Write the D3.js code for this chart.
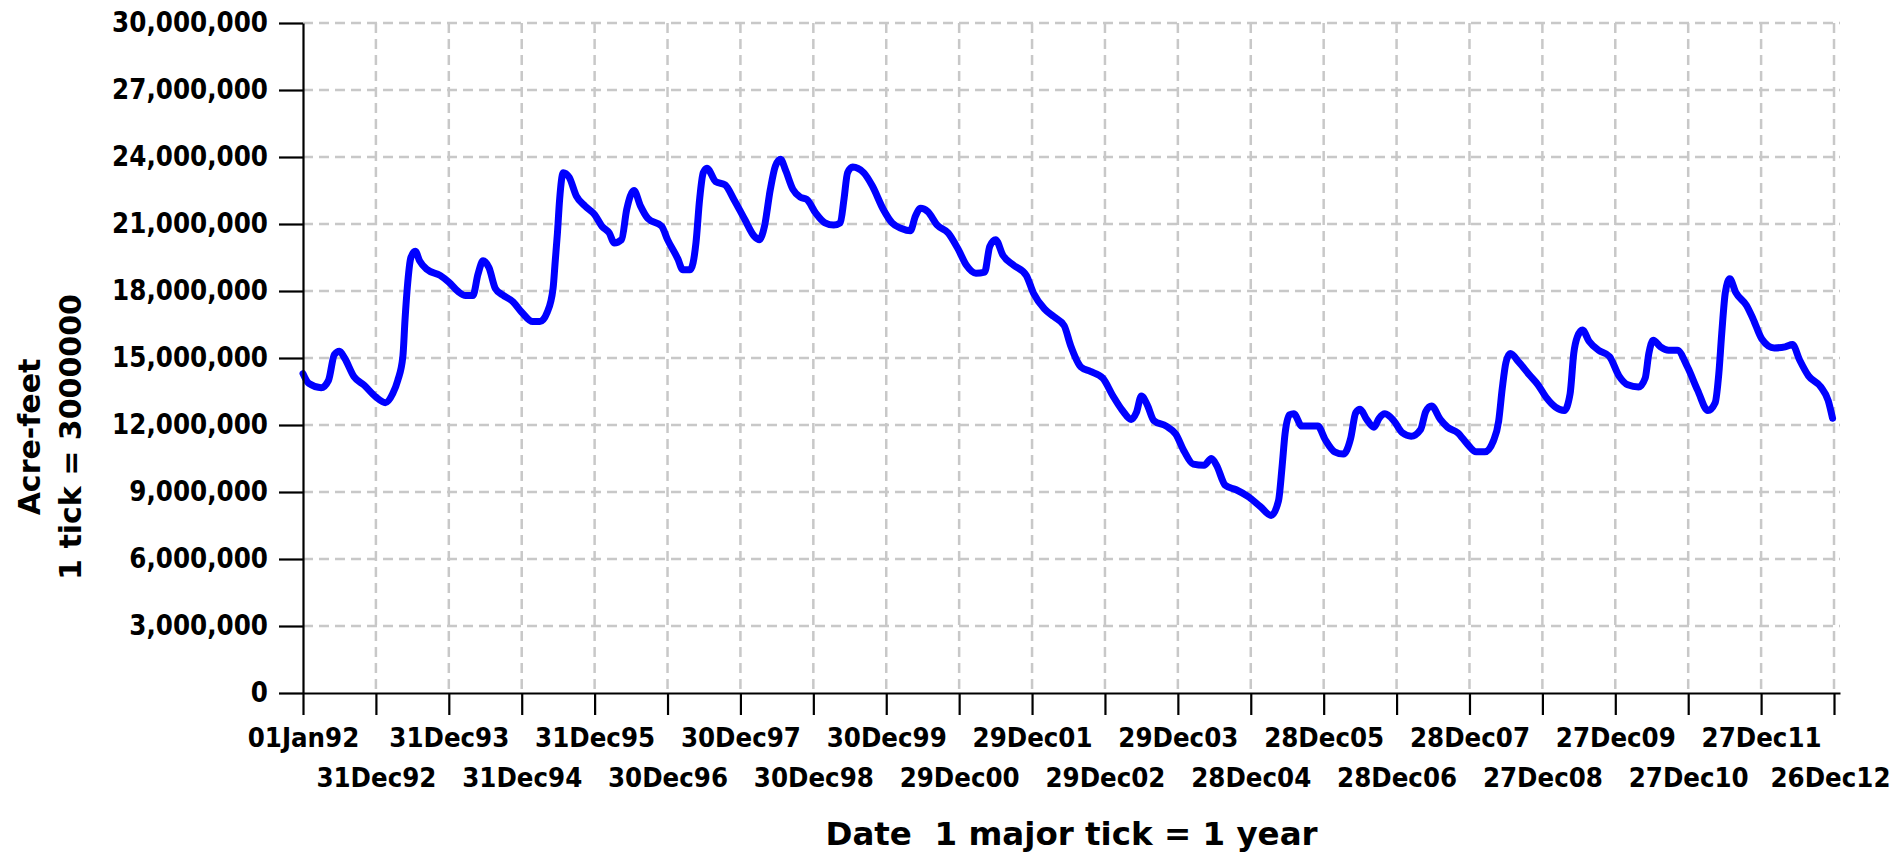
<!DOCTYPE html>
<html>
<head>
<meta charset="utf-8">
<script src="https://cdn.jsdelivr.net/npm/d3@7"></script>
<style>
body { margin: 0; background: #fff; }
text { font-family: "DejaVu Sans", sans-serif; fill: #000; }
</style>
</head>
<body>
<script>
var width = 1901;
var height = 854;
var margin = {top: 23, right: 61, bottom: 161, left: 303};

// position of each reading, in "tick years" (1 tick = 365 days from 01Jan92)
var years = [
  1992.00, 1992.08, 1992.25, 1992.35, 1992.43, 1992.50, 1992.57, 1992.70, 1992.84,
  1993.00, 1993.13, 1993.23, 1993.30, 1993.37, 1993.40, 1993.43, 1993.48, 1993.54, 1993.60, 1993.70, 1993.88,
  1994.00, 1994.13, 1994.23, 1994.33, 1994.40, 1994.47, 1994.55, 1994.64, 1994.74, 1994.88,
  1995.00, 1995.15, 1995.25, 1995.35, 1995.43, 1995.46, 1995.49, 1995.52, 1995.57, 1995.65, 1995.75, 1995.87,
  1996.00, 1996.10, 1996.20, 1996.27, 1996.37, 1996.44, 1996.54, 1996.63, 1996.73, 1996.92,
  1997.00, 1997.14, 1997.21, 1997.31, 1997.39, 1997.44, 1997.49, 1997.54, 1997.66, 1997.79, 1997.91,
  1998.06, 1998.19, 1998.26, 1998.33, 1998.41, 1998.48, 1998.55, 1998.62, 1998.72, 1998.82, 1998.91,
  1999.03, 1999.16, 1999.28, 1999.37, 1999.42, 1999.47, 1999.54, 1999.69, 1999.81, 1999.96,
  2000.08, 2000.21, 2000.33, 2000.40, 2000.47, 2000.57, 2000.70, 2000.85, 2000.99,
  2001.10, 2001.23, 2001.35, 2001.42, 2001.50, 2001.60, 2001.75, 2001.92,
  2002.02, 2002.17, 2002.30, 2002.44, 2002.53, 2002.67, 2002.80, 2002.97,
  2003.11, 2003.24, 2003.36, 2003.43, 2003.50, 2003.58, 2003.67, 2003.84, 2003.97,
  2004.09, 2004.21, 2004.36, 2004.46, 2004.53, 2004.65, 2004.80, 2004.96,
  2005.13, 2005.28, 2005.38, 2005.43, 2005.47, 2005.53, 2005.59, 2005.70, 2005.82, 2005.92,
  2006.02, 2006.15, 2006.27, 2006.37, 2006.44, 2006.50, 2006.59, 2006.69, 2006.76, 2006.84, 2006.96,
  2007.08, 2007.20, 2007.33, 2007.40, 2007.48, 2007.60, 2007.70, 2007.84, 2007.97,
  2008.09, 2008.21, 2008.33, 2008.40, 2008.45, 2008.50, 2008.56, 2008.68, 2008.82, 2008.94,
  2009.06, 2009.18, 2009.30, 2009.38, 2009.43, 2009.48, 2009.55, 2009.64, 2009.77, 2009.92,
  2010.05, 2010.17, 2010.32, 2010.41, 2010.46, 2010.52, 2010.62, 2010.73, 2010.85, 2010.99,
  2011.13, 2011.27, 2011.37, 2011.42, 2011.46, 2011.51, 2011.57, 2011.65, 2011.80, 2011.89,
  2012.01, 2012.18, 2012.33, 2012.43, 2012.53, 2012.65, 2012.82, 2012.92, 2012.98
];

// storage in millions of acre-feet
var storage = [
  14.30, 13.86, 13.67, 14.00, 15.15, 15.30, 15.00, 14.16, 13.78,
  13.25, 13.00, 13.40, 14.00, 15.07, 16.75, 18.12, 19.50, 19.78, 19.35, 18.97, 18.70,
  18.40, 17.97, 17.80, 17.80, 18.75, 19.35, 19.05, 18.10, 17.82, 17.52,
  17.05, 16.63, 16.63, 17.05, 18.12, 19.35, 20.60, 22.10, 23.30, 23.10, 22.25, 21.80,
  21.42, 20.90, 20.60, 20.15, 20.30, 21.65, 22.50, 21.80, 21.25, 20.90,
  20.30, 19.45, 18.95, 18.95, 20.15, 22.10, 23.30, 23.50, 22.90, 22.75, 22.10,
  21.20, 20.45, 20.30, 20.90, 22.55, 23.60, 23.90, 23.40, 22.55, 22.20, 22.10,
  21.50, 21.05, 20.95, 21.05, 22.10, 23.30, 23.55, 23.30, 22.70, 21.65,
  21.05, 20.80, 20.70, 21.35, 21.70, 21.55, 20.95, 20.60, 19.85,
  19.15, 18.80, 18.85, 20.00, 20.30, 19.60, 19.15, 18.70,
  17.90, 17.20, 16.85, 16.45, 15.55, 14.60, 14.40, 14.10,
  13.30, 12.65, 12.25, 12.55, 13.30, 12.90, 12.20, 11.95, 11.60,
  10.80, 10.25, 10.20, 10.50, 10.20, 9.30, 9.10, 8.80,
  8.35, 7.95, 8.60, 10.15, 11.60, 12.45, 12.50, 11.95, 11.95, 11.95,
  11.35, 10.80, 10.70, 11.40, 12.55, 12.70, 12.25, 11.90, 12.30, 12.50, 12.20,
  11.65, 11.50, 11.80, 12.60, 12.85, 12.25, 11.90, 11.65, 11.15,
  10.80, 10.80, 11.30, 12.17, 13.65, 14.80, 15.20, 14.80, 14.25, 13.80,
  13.20, 12.80, 12.65, 13.40, 15.20, 15.95, 16.25, 15.75, 15.35, 15.07,
  14.20, 13.80, 13.70, 14.10, 15.20, 15.80, 15.50, 15.35, 15.35, 14.60,
  13.55, 12.65, 13.00, 14.30, 16.10, 17.95, 18.55, 17.95, 17.35, 16.75,
  15.85, 15.45, 15.50, 15.60, 14.90, 14.20, 13.70, 13.10, 12.30
];

var yTicks = [0, 3e6, 6e6, 9e6, 12e6, 15e6, 18e6, 21e6, 24e6, 27e6, 30e6];
var yLabel = ['Acre-feet', '1 tick = 3000000'];
var xLabel = 'Date  1 major tick = 1 year';

var DAY = 864e5;
var start = Date.UTC(1992, 0, 1);
function tickYearToDate(t) { return new Date(start + (t - 1992) * 365 * DAY); }

// major ticks every 365 days: 01Jan92, 31Dec92, ... 26Dec12
var xTicks = d3.range(0, 22).map(function(i) { return new Date(start + i * 365 * DAY); });

var data = years.map(function(t, i) {
  return {date: tickYearToDate(t), value: storage[i] * 1e6};
});

var x = d3.scaleUtc()
  .domain([new Date(start), new Date(start + 7695 * DAY)])
  .range([margin.left, width - margin.right]);

var y = d3.scaleLinear()
  .domain([0, 30e6])
  .range([height - margin.bottom, margin.top]);

var svg = d3.select('body')
  .append('svg')
  .attr('width', width)
  .attr('height', height);

// grid
var grid = svg.append('g')
  .attr('stroke', '#c8c8c8')
  .attr('stroke-width', 2.5)
  .attr('stroke-dasharray', '10,6');

grid.selectAll('.hgrid')
  .data(yTicks.slice(1))
  .enter().append('line')
  .attr('x1', margin.left)
  .attr('x2', width - margin.right)
  .attr('y1', function(d) { return y(d); })
  .attr('y2', function(d) { return y(d); });

grid.selectAll('.vgrid')
  .data(xTicks.slice(1))
  .enter().append('line')
  .attr('x1', function(d) { return x(d); })
  .attr('x2', function(d) { return x(d); })
  .attr('y1', margin.top)
  .attr('y2', height - margin.bottom);

// series line
var line = d3.line()
  .x(function(d) { return x(d.date); })
  .y(function(d) { return y(d.value); })
  .curve(d3.curveMonotoneX);

svg.append('path')
  .datum(data)
  .attr('fill', 'none')
  .attr('stroke', '#0000ff')
  .attr('stroke-width', 7)
  .attr('stroke-linejoin', 'round')
  .attr('stroke-linecap', 'round')
  .attr('d', line);

// squeeze text a little, the original font is narrower than DejaVu
function squeeze(sel, k) {
  sel.each(function() {
    var len = this.getComputedTextLength();
    d3.select(this)
      .attr('textLength', len * k)
      .attr('lengthAdjust', 'spacingAndGlyphs');
  });
}

// y axis
var yAxis = svg.append('g')
  .attr('transform', 'translate(' + margin.left + ',0)')
  .call(d3.axisLeft(y)
    .tickValues(yTicks)
    .tickSize(24)
    .tickSizeOuter(0)
    .tickPadding(11)
    .tickFormat(d3.format(',')));

yAxis.select('.domain').attr('stroke', '#000').attr('stroke-width', 2.2);
yAxis.selectAll('.tick line').attr('stroke', '#000').attr('stroke-width', 2.2);
yAxis.selectAll('.tick text')
  .attr('font-family', 'DejaVu Sans')
  .attr('font-size', 28)
  .attr('font-weight', 'bold')
  .attr('fill', '#000')
  .call(squeeze, 0.88);

// x axis
var xAxis = svg.append('g')
  .attr('transform', 'translate(0,' + (height - margin.bottom) + ')')
  .call(d3.axisBottom(x)
    .tickValues(xTicks)
    .tickSize(22)
    .tickSizeOuter(0)
    .tickFormat(d3.utcFormat('%d%b%y')));

xAxis.select('.domain').attr('stroke', '#000').attr('stroke-width', 2.2);
xAxis.selectAll('.tick line').attr('stroke', '#000').attr('stroke-width', 2.2);
xAxis.selectAll('.tick text')
  .attr('font-family', 'DejaVu Sans')
  .attr('font-size', 27)
  .attr('font-weight', 'bold')
  .attr('fill', '#000')
  .attr('dy', 0)
  .attr('x', function(d, i) { return i == xTicks.length - 1 ? -4 : 0; })
  .attr('y', function(d, i) { return i % 2 == 0 ? 54 : 94; })
  .call(squeeze, 0.91);

// axis titles
svg.append('text')
  .attr('x', (margin.left + width - margin.right) / 2)
  .attr('y', 845)
  .attr('text-anchor', 'middle')
  .attr('font-size', 32.5)
  .attr('font-weight', 'bold')
  .style('white-space', 'pre')
  .text(xLabel);

svg.selectAll('.ytitle')
  .data(yLabel)
  .enter().append('text')
  .attr('transform', function(d, i) {
    return 'translate(' + (40 + i * 41) + ',437) rotate(-90)';
  })
  .attr('text-anchor', 'middle')
  .attr('font-size', 30)
  .attr('font-weight', 'bold')
  .text(function(d) { return d; });
</script>
</body>
</html>
